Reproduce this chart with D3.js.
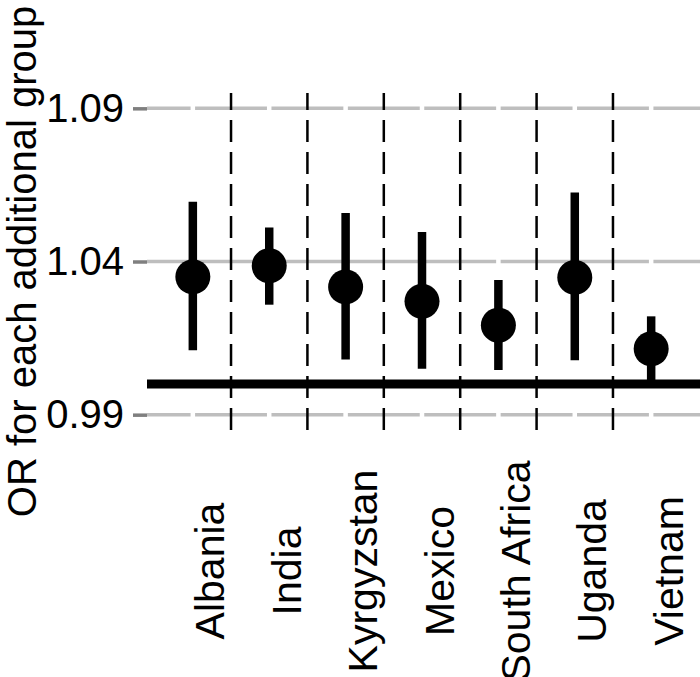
<!DOCTYPE html>
<html>
<head>
<meta charset="utf-8">
<script src="https://cdn.jsdelivr.net/npm/d3@7"></script>
<style>
  body { margin: 0; background: #fff; }
  text { font-family: "Liberation Sans", Arial, sans-serif; }
</style>
</head>
<body>
<div id="chart"></div>
<script>
var countries = ['Albania', 'India', 'Kyrgyzstan', 'Mexico', 'South Africa', 'Uganda', 'Vietnam'];
var estimates = [1.0350, 1.0386, 1.0317, 1.0270, 1.0192, 1.0348, 1.0115];
var lower = [1.0110, 1.0259, 1.0080, 1.0050, 1.0046, 1.0078, 1.0000];
var upper = [1.0595, 1.0511, 1.0558, 1.0496, 1.0340, 1.0625, 1.0221];
var yTicks = [0.99, 1.04, 1.09];
var yLimits = [0.99, 1.09];
var refValue = 1.0;
var yTitle = 'OR for each additional group';

var W = 700, H = 677;
// panel edges (window.top is reserved, so use p-prefixed names)
var pLeft = 147, pRight = 697, pTop = 93, pBottom = 430;

var svg = d3.select('#chart')
    .append('svg')
    .attr('width', W)
    .attr('height', H)
    .attr('xmlns', 'http://www.w3.org/2000/svg');

var pad = (yLimits[1] - yLimits[0]) * 0.05;
var y = d3.scaleLinear()
    .domain([yLimits[0] - pad, yLimits[1] + pad])
    .range([pBottom, pTop]);

var x = d3.scalePoint()
    .domain(countries)
    .range([pLeft, pRight])
    .padding(0.6);

var data = countries.map((c, i) => ({ c: c, est: estimates[i], lo: lower[i], hi: upper[i] }));

// horizontal grid
svg.append('g')
    .selectAll('line')
    .data(yTicks)
    .enter()
    .append('line')
    .attr('x1', pLeft)
    .attr('x2', W)
    .attr('y1', (d) => y(d))
    .attr('y2', (d) => y(d))
    .attr('stroke', '#bebebe')
    .attr('stroke-width', 3.5);

// white x grid breaks the y grid at each country
svg.append('g')
    .selectAll('line')
    .data(countries)
    .enter()
    .append('line')
    .attr('x1', (d) => x(d))
    .attr('x2', (d) => x(d))
    .attr('y1', pTop)
    .attr('y2', pBottom)
    .attr('stroke', '#fff')
    .attr('stroke-width', 4.5);

// dashed separators between countries
var seps = countries.slice(1).map((c, i) => (x(countries[i]) + x(c)) / 2);
svg.append('g')
    .selectAll('line')
    .data(seps)
    .enter()
    .append('line')
    .attr('x1', (d) => d)
    .attr('x2', (d) => d)
    .attr('y1', pBottom)
    .attr('y2', pTop)
    .attr('stroke', '#000')
    .attr('stroke-width', 2.5)
    .attr('stroke-dasharray', '22 10');

// reference line
svg.append('line')
    .attr('x1', pLeft)
    .attr('x2', W)
    .attr('y1', y(refValue))
    .attr('y2', y(refValue))
    .attr('stroke', '#000')
    .attr('stroke-width', 9);

// error bars
svg.append('g')
    .selectAll('line')
    .data(data)
    .enter()
    .append('line')
    .attr('x1', (d) => x(d.c))
    .attr('x2', (d) => x(d.c))
    .attr('y1', (d) => y(d.lo))
    .attr('y2', (d) => y(d.hi))
    .attr('stroke', '#000')
    .attr('stroke-width', 8.5);

svg.append('g')
    .selectAll('circle')
    .data(data)
    .enter()
    .append('circle')
    .attr('cx', (d) => x(d.c))
    .attr('cy', (d) => y(d.est))
    .attr('r', 17.5)
    .attr('fill', '#000');

// y axis
var yAxis = svg.append('g')
    .attr('transform', `translate(${pLeft},0)`)
    .call(d3.axisLeft(y)
        .tickValues(yTicks)
        .tickSize(14)
        .tickPadding(9)
        .tickFormat(d3.format('.2f')));
yAxis.select('.domain').remove();
yAxis.selectAll('line').attr('stroke', '#7f7f7f').attr('stroke-width', 3.5);
yAxis.selectAll('text')
    .attr('font-size', 40)
    .attr('fill', '#000')
    .style('font-family', '"Liberation Sans", Arial, sans-serif');

// x axis labels, rotated
var xAxis = svg.append('g')
    .attr('transform', `translate(0,${pBottom})`)
    .call(d3.axisBottom(x).tickSize(0));
xAxis.select('.domain').remove();
xAxis.selectAll('text')
    .attr('transform', 'rotate(-90)')
    .attr('x', -141)
    .attr('y', 31)
    .attr('dy', 0)
    .attr('text-anchor', 'middle')
    .attr('font-size', 41)
    .attr('fill', '#000')
    .style('font-family', '"Liberation Sans", Arial, sans-serif');

svg.append('text')
    .attr('transform', `translate(35.5,${(pTop + pBottom) / 2}) rotate(-90)`)
    .attr('text-anchor', 'middle')
    .attr('font-size', 40)
    .attr('fill', '#000')
    .text(yTitle);
</script>
</body>
</html>
